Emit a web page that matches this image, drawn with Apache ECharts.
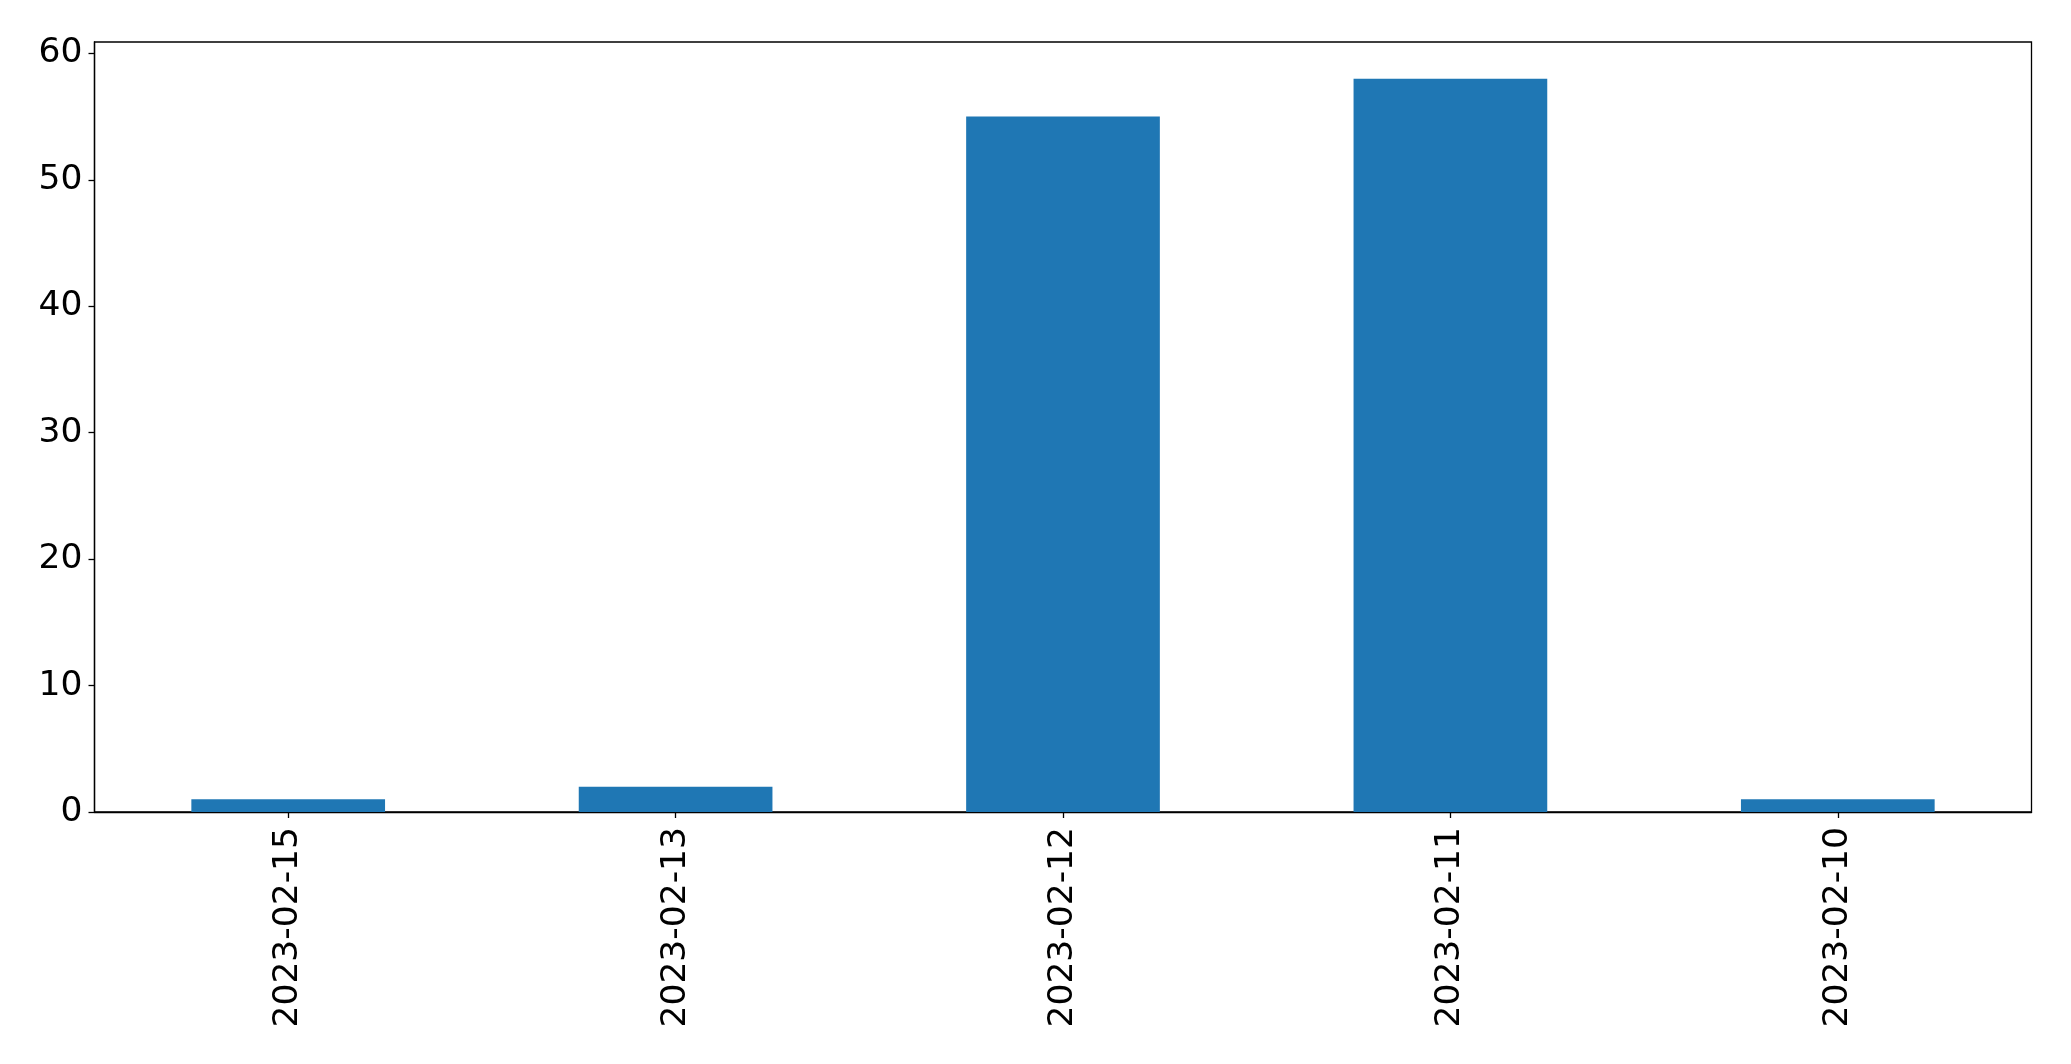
<!DOCTYPE html>
<html>
<head>
<meta charset="utf-8">
<script src="https://cdn.jsdelivr.net/npm/echarts@6/dist/echarts.min.js"></script>
<style>html,body{margin:0;padding:0;background:#fff;}#c{width:2071px;height:1064px;}</style>
</head>
<body>
<div id="c"></div>
<script>
const categories = ['2023-02-15', '2023-02-13', '2023-02-12', '2023-02-11', '2023-02-10'];
const counts = [1, 2, 55, 58, 1];
const yTicks = [0, 10, 20, 30, 40, 50, 60];

const chart = echarts.init(document.getElementById('c'), null, {renderer: 'canvas'});
chart.setOption({
  animation: false,
  backgroundColor: '#ffffff',
  grid: {left: 94.5, right: 39.5, top: 42, bottom: 252, show: true, borderColor: '#000', borderWidth: 1.3, backgroundColor: 'transparent'},
  xAxis: {
    type: 'category',
    data: categories,
    boundaryGap: true,
    axisLine: {show: true, lineStyle: {color: '#000', width: 1.3}},
    axisTick: {show: true, alignWithLabel: true, length: 6, lineStyle: {color: '#000', width: 1.3}},
    axisLabel: {rotate: 90, margin: 15, color: '#000', fontSize: 34.5, fontFamily: 'DejaVu Sans'},
    splitLine: {show: false}
  },
  yAxis: {
    type: 'value',
    min: 0,
    max: 60.9,
    interval: 10,
    axisLine: {show: true, lineStyle: {color: '#000', width: 1.3}},
    axisTick: {show: true, length: 6, customValues: yTicks, lineStyle: {color: '#000', width: 1.3}},
    axisLabel: {margin: 12, color: '#000', fontSize: 34.5, fontFamily: 'DejaVu Sans', customValues: yTicks},
    splitLine: {show: false}
  },
  series: [{
    type: 'bar',
    data: counts,
    barWidth: '50%',
    itemStyle: {color: '#1f77b4'}
  }]
});
</script>
</body>
</html>
